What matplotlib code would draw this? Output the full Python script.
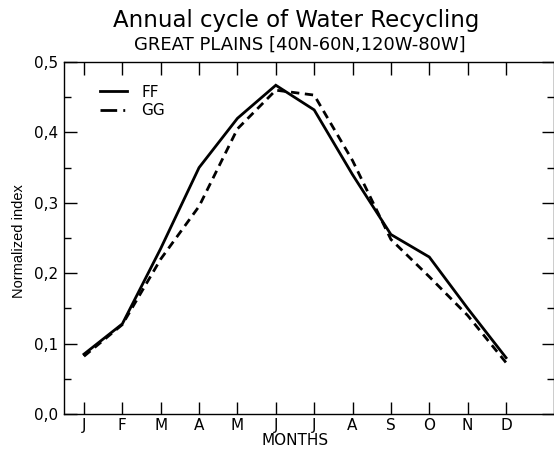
import numpy as np
import matplotlib
matplotlib.use("Agg")
import matplotlib.pyplot as plt
from matplotlib.lines import Line2D
from matplotlib.ticker import MultipleLocator, FuncFormatter

plt.rcParams["font.family"] = ["DejaVu Sans"]

# Datos
meses = ["J", "F", "M", "A", "M", "J", "J", "A", "S", "O", "N", "D"]
ff = [0.085, 0.128, 0.235, 0.350, 0.420, 0.467, 0.432, 0.340, 0.255, 0.223, 0.150, 0.080]
gg = [0.082, 0.127, 0.220, 0.295, 0.405, 0.460, 0.453, 0.360, 0.248, 0.195, 0.140, 0.073]

fig = plt.figure(figsize=(5.54, 4.51), dpi=100)
ax = fig.add_axes([0.1155, 0.082, 0.8845, 0.7805])

x = np.arange(len(meses))
ax.plot(x, ff, color="black", lw=2.0, solid_joinstyle="miter")
ax.plot(x, gg, color="black", lw=2.0, linestyle=(0, (3, 2)))

ax.set_xlim(-0.52, 12.25)
ax.set_ylim(0, 0.5)
ax.set_xticks(x)
ax.set_xticklabels(meses, fontsize=11)
ax.yaxis.set_major_locator(MultipleLocator(0.1))
ax.yaxis.set_minor_locator(MultipleLocator(0.05))
ax.yaxis.set_major_formatter(FuncFormatter(lambda v, p: f"{v:.1f}".replace(".", ",")))
ax.tick_params(axis="y", labelsize=11)

# Ticks hacia adentro en los cuatro lados, como en el original
ax.tick_params(which="major", direction="in", length=9, width=1,
               top=True, right=True, pad=4)
ax.tick_params(which="minor", direction="in", length=5, width=1,
               right=True, left=True)
ax.tick_params(axis="x", which="minor", bottom=False, top=False)
ax.tick_params(axis="x", pad=3)

for s in ax.spines.values():
    s.set_linewidth(1.0)

ax.set_xlabel("MONTHS", fontsize=11)
ax.xaxis.set_label_coords(0.472, -0.055)
ax.set_ylabel("Normalized index", fontsize=10.5, family="Liberation Sans")
ax.yaxis.set_label_coords(-0.078, 0.49)

# Leyenda con el trazo raya-punto como en el original
handles = [Line2D([], [], color="black", lw=2.0),
           Line2D([], [], color="black", lw=2.0, linestyle=(0, (6, 2.2, 0.7, 3)))]
ax.legend(handles, ["FF", "GG"], loc="upper left", frameon=False,
          fontsize=11, handlelength=1.8, bbox_to_anchor=(0.045, 0.975),
          handletextpad=0.9, labelspacing=0.25)

fig.text(0.534, 0.955, "Annual cycle of Water Recycling", ha="center",
         va="center", fontsize=16.5)
fig.text(0.541, 0.901, "GREAT PLAINS [40N-60N,120W-80W]", ha="center",
         va="center", fontsize=13)

fig.savefig("out.png", dpi=100, facecolor="white")
